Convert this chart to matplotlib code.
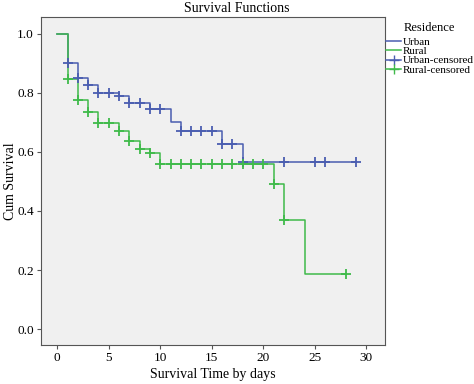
import numpy as np
import matplotlib.pyplot as plt
from matplotlib.lines import Line2D

plt.rcParams['font.family'] = ['Liberation Serif', 'DejaVu Serif']

# Kaplan-Meier steps (days, cumulative survival)
urban_t = [0, 1, 2, 3, 4, 6, 7, 9, 11, 12, 16, 18, 29]
urban_s = [1.0, 0.90, 0.85, 0.825, 0.80, 0.79, 0.765, 0.745, 0.70, 0.67, 0.625, 0.567, 0.567]
urban_cens = [1, 2, 3, 4, 5, 6, 7, 8, 9, 10, 12, 13, 14, 15, 16, 17, 18, 22, 25, 26, 29]

rural_t = [0, 1, 2, 3, 4, 6, 7, 8, 9, 10, 21, 22, 24, 28]
rural_s = [1.0, 0.845, 0.775, 0.735, 0.697, 0.672, 0.635, 0.609, 0.595, 0.559, 0.492, 0.369, 0.186, 0.186]
rural_cens = [1, 2, 3, 4, 5, 6, 7, 8, 9, 10, 11, 12, 13, 14, 15, 16, 17, 18, 19, 20, 21, 22, 28]

BLUE = '#4a5db0'
GREEN = '#3fba4a'


def surv_at(times, surv, pts):
    ''' Survival value of the step curve at each of `pts` '''
    idx = np.searchsorted(times, pts, side='right') - 1
    return np.asarray(surv)[idx]


fig = plt.figure(figsize=(4.74, 3.84), dpi=100)
ax = fig.add_axes([0.086, 0.102, 0.726, 0.853])
ax.set_facecolor('#f0f0f0')

ax.step(urban_t, urban_s, where='post', color=BLUE, lw=1.1)
ax.step(rural_t, rural_s, where='post', color=GREEN, lw=1.1)
ax.plot(urban_cens, surv_at(urban_t, urban_s, urban_cens), ls='none',
        marker='+', ms=7, mew=1.3, color=BLUE)
ax.plot(rural_cens, surv_at(rural_t, rural_s, rural_cens), ls='none',
        marker='+', ms=7, mew=1.3, color=GREEN)

ax.set_xlim(-1.6, 31.8)
ax.set_ylim(-0.053, 1.055)
ax.set_xticks(range(0, 31, 5))
ax.set_yticks(np.arange(0, 1.01, 0.2))
ax.set_yticklabels([f'{v:.1f}' for v in np.arange(0, 1.01, 0.2)])
ax.tick_params(labelsize=9.5, length=3, pad=2, color='#555555')
for sp in ax.spines.values():
    sp.set_color('#555555')

# title sits centred on the whole figure, like the SPSS output
fig.text(0.5, 0.979, 'Survival Functions', fontsize=10, ha='center', va='center')
ax.set_xlabel('Survival Time by days', fontsize=10, labelpad=3)
ax.set_ylabel('Cum Survival', fontsize=10)
ax.yaxis.set_label_coords(-0.068, 0.5)

fig.text(0.851, 0.927, 'Residence', fontsize=9, ha='left', va='center')
handles = [Line2D([], [], color=BLUE, lw=1.1),
           Line2D([], [], color=GREEN, lw=1.1),
           Line2D([], [], color=BLUE, lw=1.1, marker='+', ms=7),
           Line2D([], [], color=GREEN, lw=1.1, marker='+', ms=7)]
labels = ['Urban', 'Rural', 'Urban-censored', 'Rural-censored']
fig.legend(handles, labels, loc='upper left', bbox_to_anchor=(0.815, 0.903),
           frameon=False, fontsize=8, handlelength=1.3, handletextpad=0.2,
           labelspacing=-0.05, borderaxespad=0, borderpad=0)

fig.savefig('out.png', dpi=100)
